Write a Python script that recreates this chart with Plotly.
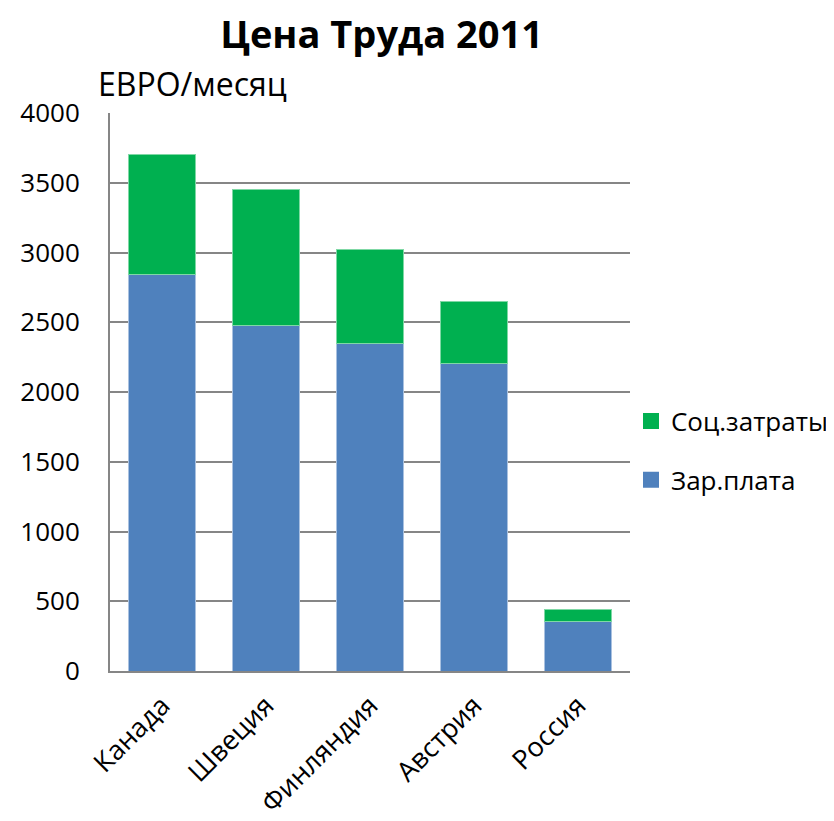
import plotly.graph_objects as go

countries = ["Канада", "Швеция", "Финляндия", "Австрия", "Россия"]
wages = [2840, 2480, 2350, 2205, 355]
social = [860, 970, 670, 447, 85]
y_ticks = [0, 500, 1000, 1500, 2000, 2500, 3000, 3500, 4000]

FONT = "Open Sans"
BLUE = "#4f81bd"
GREEN = "#00b050"

fig = go.Figure()
fig.add_trace(go.Bar(
    x=countries, y=wages, name="Зар.плата",
    marker=dict(color=BLUE, line=dict(color="#a9c1e0", width=1)),
    showlegend=False,
))
fig.add_trace(go.Bar(
    x=countries, y=social, name="Соц.затраты",
    marker=dict(color=GREEN, line=dict(color="#7fd8a5", width=1)),
    showlegend=False,
))
# legend entries (square swatches)
fig.add_trace(go.Scatter(x=[None], y=[None], mode="markers", name="Соц.затраты",
                         marker=dict(symbol="square", size=16, color=GREEN),
                         legendgroup="b", legendrank=1))
fig.add_trace(go.Scatter(x=[None], y=[None], mode="markers", name="Зар.плата",
                         marker=dict(symbol="square", size=16, color=BLUE),
                         legendgroup="a", legendrank=2))

fig.update_layout(
    width=834, height=821,
    barmode="stack", bargap=0.36,
    plot_bgcolor="white", paper_bgcolor="white",
    margin=dict(l=102, r=212, t=105, b=158),
    font=dict(family=FONT, size=26, color="black"),
    title=dict(text="<b>Цена Труда 2011</b>", x=0.448, xanchor="center",
               y=0.967, yanchor="middle", font=dict(size=38, family=FONT)),
    legend=dict(xref="container", x=0.747, y=0.395, xanchor="left", yanchor="middle",
                traceorder="grouped", tracegroupgap=22,
                itemwidth=30,
                font=dict(size=26, family=FONT)),
    xaxis=dict(showline=True, linecolor="#868686", linewidth=2,
               tickangle=-45, ticks="", tickfont=dict(size=27),
               automargin=False, ticklabelstandoff=6),
    yaxis=dict(range=[0, 4000], tickvals=y_ticks, showgrid=True,
               gridcolor="#868686", gridwidth=2, showline=True,
               linecolor="#868686", linewidth=2, ticks="",
               zeroline=False, automargin=False, ticklabelstandoff=23,
               tickfont=dict(size=26)),
    annotations=[dict(text="ЕВРО/месяц", xref="paper", yref="paper",
                      x=-0.027, y=1.052, xanchor="left", yanchor="middle",
                      showarrow=False, font=dict(size=32, family=FONT))],
)

fig.write_html("out.html")
